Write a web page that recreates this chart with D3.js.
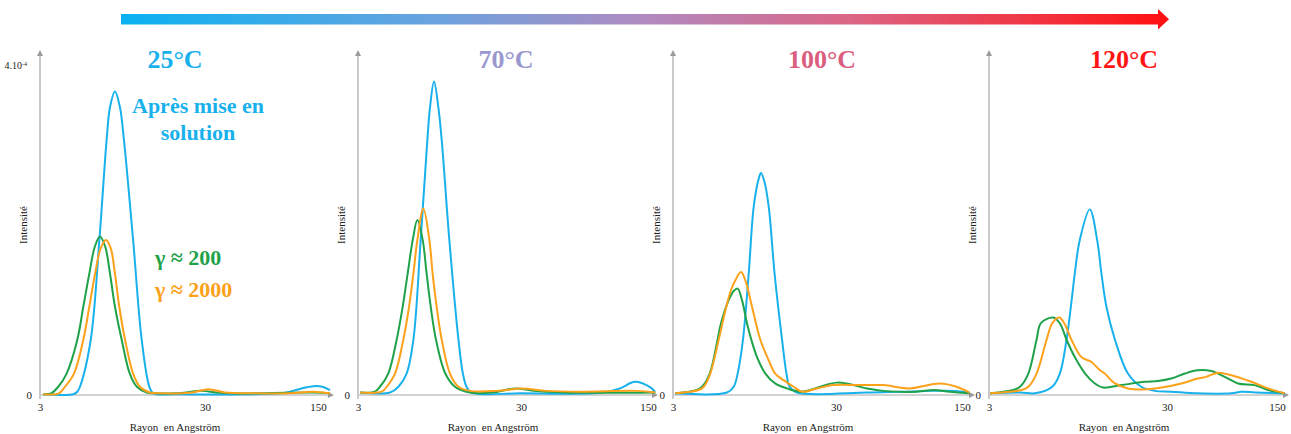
<!DOCTYPE html>
<html>
<head>
<meta charset="utf-8">
<script src="https://cdn.jsdelivr.net/npm/d3@7"></script>
<style>
  body { margin: 0; background: #fff; }
  svg { display: block; }
  text { font-family: "Liberation Serif", "Times New Roman", serif; }
</style>
</head>
<body>
<div id="chart"></div>
<script>
// ---------------------------//
//            DATA            //
// ---------------------------//
// [rayon (Å), intensité (x 1e-4)]
const temps = ["25°C", "70°C", "100°C", "120°C"];
const xTicks = [3, 30, 150];
const legend = ["γ ≈ 200", "γ ≈ 2000"];
const blueNote = ["Après mise en", "solution"];

// 25°C
const t25Blue = [[3.14,0.01],[4.78,0.01],[5.05,0.04],[5.24,0.10],[6.09,0.67],[6.87,1.88],[7.6,3.09],[7.97,3.49],[8.54,3.68],[9.15,3.49],[9.68,3.09],[11.0,1.88],[12.4,0.67],[13.8,0.10],[14.6,0.02],[20,0.01],[60,0.01],[90,0.02],[105,0.05],[125,0.09],[145,0.11],[160,0.10],[178,0.06]];
const t25Green = [[3.14,0.01],[3.5,0.02],[3.87,0.10],[4.35,0.26],[5.05,0.67],[5.49,1.07],[5.97,1.47],[6.45,1.80],[6.93,1.92],[7.45,1.80],[7.97,1.47],[8.54,1.07],[9.38,0.67],[10.5,0.26],[11.6,0.10],[13.3,0.03],[15,0.02],[20,0.02],[29,0.05],[35,0.03],[45,0.02],[140,0.03],[178,0.02]];
const t25Orange = [[3.14,0.01],[3.9,0.02],[4.25,0.10],[4.82,0.26],[5.49,0.67],[5.97,1.07],[6.47,1.47],[7.0,1.78],[7.54,1.88],[8.05,1.78],[8.54,1.47],[9.07,1.07],[9.83,0.67],[11.0,0.26],[12.1,0.10],[13.9,0.03],[16,0.02],[25,0.03],[31.4,0.07],[40,0.03],[60,0.02],[100,0.02],[140,0.04],[178,0.02]];

// 70°C
const t70Blue = [[3.09,0.03],[4.72,0.03],[5.31,0.10],[5.96,0.26],[6.56,0.67],[7.27,1.88],[7.99,3.09],[8.3,3.49],[8.78,3.80],[9.33,3.49],[9.79,3.09],[10.9,1.88],[12.4,0.67],[13.2,0.26],[13.9,0.10],[14.9,0.03],[30,0.02],[85,0.03],[105,0.08],[127,0.16],[150,0.11],[164,0.04]];
const t70Green = [[3.09,0.03],[3.8,0.04],[4.09,0.10],[4.6,0.26],[5.18,0.67],[5.64,1.07],[6.05,1.47],[6.5,1.88],[6.94,2.12],[7.48,1.88],[7.91,1.47],[8.38,1.07],[9.03,0.67],[10.3,0.26],[11.8,0.10],[14.6,0.03],[20,0.03],[28,0.08],[35,0.05],[51,0.03],[165,0.03]];
const t70Orange = [[3.09,0.03],[4.2,0.04],[4.5,0.10],[5.06,0.26],[5.69,0.67],[6.17,1.07],[6.56,1.47],[6.94,1.88],[7.55,2.26],[8.22,1.88],[8.61,1.47],[9.11,1.07],[9.79,0.67],[11.0,0.26],[12.4,0.10],[14.6,0.05],[21.3,0.05],[30.3,0.08],[41.5,0.05],[63,0.04],[130,0.05],[164,0.03]];

// 100°C
const t100Blue = [[3.1,0.02],[6.43,0.03],[7.07,0.10],[7.48,0.26],[8.06,0.67],[8.74,1.47],[9.38,2.28],[10.06,2.62],[10.4,2.69],[10.9,2.59],[11.6,2.28],[12.6,1.47],[14.0,0.67],[14.9,0.26],[15.6,0.10],[17.3,0.03],[44.5,0.03],[68,0.04],[104,0.05],[135,0.05],[165,0.03]];
const t100Green = [[3.1,0.02],[4.21,0.06],[4.52,0.10],[5.04,0.26],[5.63,0.67],[5.91,0.87],[6.59,1.15],[7.07,1.26],[7.48,1.29],[7.95,1.15],[8.53,0.87],[9.07,0.67],[9.83,0.46],[11.06,0.26],[12.7,0.14],[15.0,0.08],[18.6,0.04],[30.4,0.15],[44.5,0.08],[55,0.05],[84,0.04],[104,0.06],[128,0.04],[165,0.02]];
const t100Orange = [[3.1,0.02],[4.31,0.06],[4.63,0.10],[5.08,0.26],[5.72,0.67],[6.37,1.07],[6.8,1.27],[7.24,1.39],[7.84,1.49],[8.34,1.39],[9.16,1.07],[10.3,0.67],[11.6,0.42],[12.7,0.26],[14.3,0.18],[16.5,0.10],[18.6,0.04],[22.9,0.08],[29,0.12],[40,0.12],[55,0.12],[77,0.08],[113,0.14],[140,0.10],[165,0.03]];

// 120°C
const t120Blue = [[3.04,0.02],[4.5,0.03],[5.43,0.02],[6.8,0.10],[7.5,0.26],[8.18,0.67],[8.65,1.07],[9.1,1.47],[9.71,1.88],[11.05,2.25],[12.15,1.88],[12.85,1.47],[13.7,1.07],[15.3,0.67],[18.1,0.26],[21.5,0.10],[25.6,0.05],[31.9,0.04],[47,0.02],[77,0.02],[89,0.04],[110,0.03],[168,0.02]];
const t120Green = [[3.04,0.02],[4.11,0.06],[4.48,0.10],[4.99,0.26],[5.55,0.67],[5.87,0.87],[6.89,0.94],[7.5,0.87],[8.18,0.67],[9.1,0.46],[10.4,0.26],[11.8,0.14],[13.1,0.09],[16.6,0.12],[22.5,0.16],[26.7,0.17],[31.9,0.20],[38.9,0.26],[47,0.30],[57.4,0.29],[69.8,0.22],[84.8,0.14],[108,0.12],[131.6,0.06],[168,0.02]];
const t120Orange = [[3.04,0.02],[4.57,0.06],[4.99,0.10],[5.55,0.26],[6.32,0.67],[6.8,0.87],[7.44,0.94],[7.94,0.87],[8.72,0.67],[9.92,0.46],[11.3,0.40],[12.6,0.30],[13.4,0.26],[15.3,0.14],[18.1,0.08],[23.5,0.07],[27.9,0.09],[37,0.14],[47,0.20],[53,0.22],[63.3,0.27],[77,0.24],[103,0.16],[131.6,0.08],[168,0.02]];

const panelSeries = [
  [t25Blue, t25Green, t25Orange],
  [t70Blue, t70Green, t70Orange],
  [t100Blue, t100Green, t100Orange],
  [t120Blue, t120Green, t120Orange]
];

// ---------------------------//
//      LAYOUT AND STYLE      //
// ---------------------------//
const WIDTH = 1291, HEIGHT = 434;
const BASE = 395, TOP = 65, AXIS_TOP = 50;
const SERIF = '"Liberation Serif", "Times New Roman", serif';

// y axis x, tick 30, tick 150, x-axis end (each panel is a pasted plot)
const panels = [
  {x3: 40,  x30: 205, x150: 318, xEnd: 334},
  {x3: 358, x30: 521, x150: 648, xEnd: 658},
  {x3: 673, x30: 836, x150: 962, xEnd: 975},
  {x3: 989, x30: 1167, x150: 1277, xEnd: 1289}
];
const titleColors = ["#19b0ec", "#9a98cf", "#d95f7f", "#ff1414"];
const titleX = [175, 506, 822, 1124];
const lineColors = ["#19b1ec", "#1fa24a", "#fba11a"];

const svg = d3.select("#chart").append("svg")
  .attr("width", WIDTH)
  .attr("height", HEIGHT);

const defs = svg.append("defs");

defs.append("marker")
  .attr("id", "axArrow")
  .attr("viewBox", "0 0 10 10")
  .attr("refX", 5).attr("refY", 5)
  .attr("markerWidth", 6).attr("markerHeight", 6)
  .attr("markerUnits", "userSpaceOnUse")
  .attr("orient", "auto")
  .append("path")
  .attr("d", "M0,0 L10,5 L0,10 Z")
  .attr("fill", "#9a9a9a");

// top temperature arrow
const grad = defs.append("linearGradient")
  .attr("id", "tempGrad")
  .attr("gradientUnits", "userSpaceOnUse")
  .attr("x1", 121).attr("x2", 1168).attr("y1", 0).attr("y2", 0);
[["0", "#0ab1f1"], ["0.3", "#6aa3df"], ["0.5", "#b08ac0"], ["0.7", "#dc6584"], ["1", "#ff1010"]]
  .forEach(s => grad.append("stop").attr("offset", s[0]).attr("stop-color", s[1]));

svg.append("path")
  .attr("d", "M121,14 L1158,14 L1158,9 L1169,19.3 L1158,29.5 L1158,24.5 L121,24.5 Z")
  .attr("fill", "url(#tempGrad)");

// ---------------------------//
//           PANELS           //
// ---------------------------//
const yScale = d3.scaleLinear().domain([0, 4]).range([BASE, TOP]);

panels.forEach((p, i) => {
  const g = svg.append("g");
  const xScale = d3.scaleLog()
    .domain(xTicks)
    .range([p.x3, p.x30, p.x150]);

  // axes lines with arrows
  g.append("line")
    .attr("x1", p.x3).attr("x2", p.x3)
    .attr("y1", BASE + 4).attr("y2", AXIS_TOP + 3)
    .attr("stroke", "#a6a6a6").attr("stroke-width", 1.2)
    .attr("marker-end", "url(#axArrow)");
  g.append("line")
    .attr("x1", p.x3).attr("x2", p.xEnd - 3)
    .attr("y1", BASE).attr("y2", BASE)
    .attr("stroke", "#c4c4c4").attr("stroke-width", 1.5)
    .attr("marker-end", "url(#axArrow)");

  // x ticks
  const xAxis = g.append("g")
    .attr("transform", `translate(0,${BASE + 5})`)
    .call(d3.axisBottom(xScale).tickValues(xTicks).tickFormat(d3.format("d")).tickSize(0));
  xAxis.select(".domain").remove();
  xAxis.selectAll("text")
    .attr("fill", "#222")
    .style("font-family", SERIF)
    .style("font-size", "11px");

  // y ticks
  const yAxis = g.append("g")
    .attr("transform", `translate(${p.x3 - 3},0)`)
    .call(d3.axisLeft(yScale)
      .tickValues(i === 0 ? [0, 4] : [0])
      .tickFormat(d => d === 0 ? "0" : "")
      .tickSize(0).tickPadding(5));
  yAxis.select(".domain").remove();
  yAxis.selectAll("text")
    .attr("fill", "#222")
    .attr("dy", "0.35em")
    .style("font-family", SERIF)
    .style("font-size", "11px")
    .each(function(d) {
      if (d === 4) {
        const t = d3.select(this).attr("dx", -5).style("font-size", "10px");
        t.append("tspan").text("4.10");
        t.append("tspan").attr("dy", "-0.5em").style("font-size", "6px").text("-4");
      }
    });

  // axis titles
  g.append("text")
    .attr("transform", `translate(${p.x3 - 17},225) rotate(-90)`)
    .attr("text-anchor", "middle")
    .attr("dy", "0.35em")
    .attr("fill", "#222")
    .style("font-size", "11px")
    .text("Intensité");
  g.append("text")
    .attr("x", p.x3 + 135).attr("y", 431)
    .attr("text-anchor", "middle")
    .attr("fill", "#222")
    .style("font-size", "11px")
    .style("white-space", "pre")
    .text("Rayon  en Angström");

  // curves
  const line = d3.line()
    .x(d => xScale(d[0]))
    .y(d => yScale(d[1]))
    .curve(d3.curveCatmullRom.alpha(0.5));

  // blue first, then green, orange on top
  g.selectAll(".curve")
    .data(panelSeries[i])
    .enter()
    .append("path")
    .attr("class", "curve")
    .attr("d", line)
    .attr("fill", "none")
    .attr("stroke", (d, k) => lineColors[k])
    .attr("stroke-width", 2)
    .attr("stroke-linejoin", "round");

  // temperature title
  g.append("text")
    .attr("x", titleX[i]).attr("y", 68)
    .attr("text-anchor", "middle")
    .attr("fill", titleColors[i])
    .style("font-size", "26px")
    .style("font-weight", "bold")
    .text(temps[i]);
});

// annotations in the first panel
svg.selectAll(".note")
  .data(blueNote)
  .enter()
  .append("text")
  .attr("x", 198)
  .attr("y", (d, k) => 113 + k * 27)
  .attr("text-anchor", "middle")
  .attr("fill", lineColors[0])
  .style("font-size", "22px")
  .style("font-weight", "bold")
  .text(d => d);

svg.selectAll(".legend")
  .data(legend)
  .enter()
  .append("text")
  .attr("x", 155)
  .attr("y", (d, k) => 265 + k * 32)
  .attr("fill", (d, k) => lineColors[k + 1])
  .style("font-size", "22px")
  .style("font-weight", "bold")
  .text(d => d);
</script>
</body>
</html>
